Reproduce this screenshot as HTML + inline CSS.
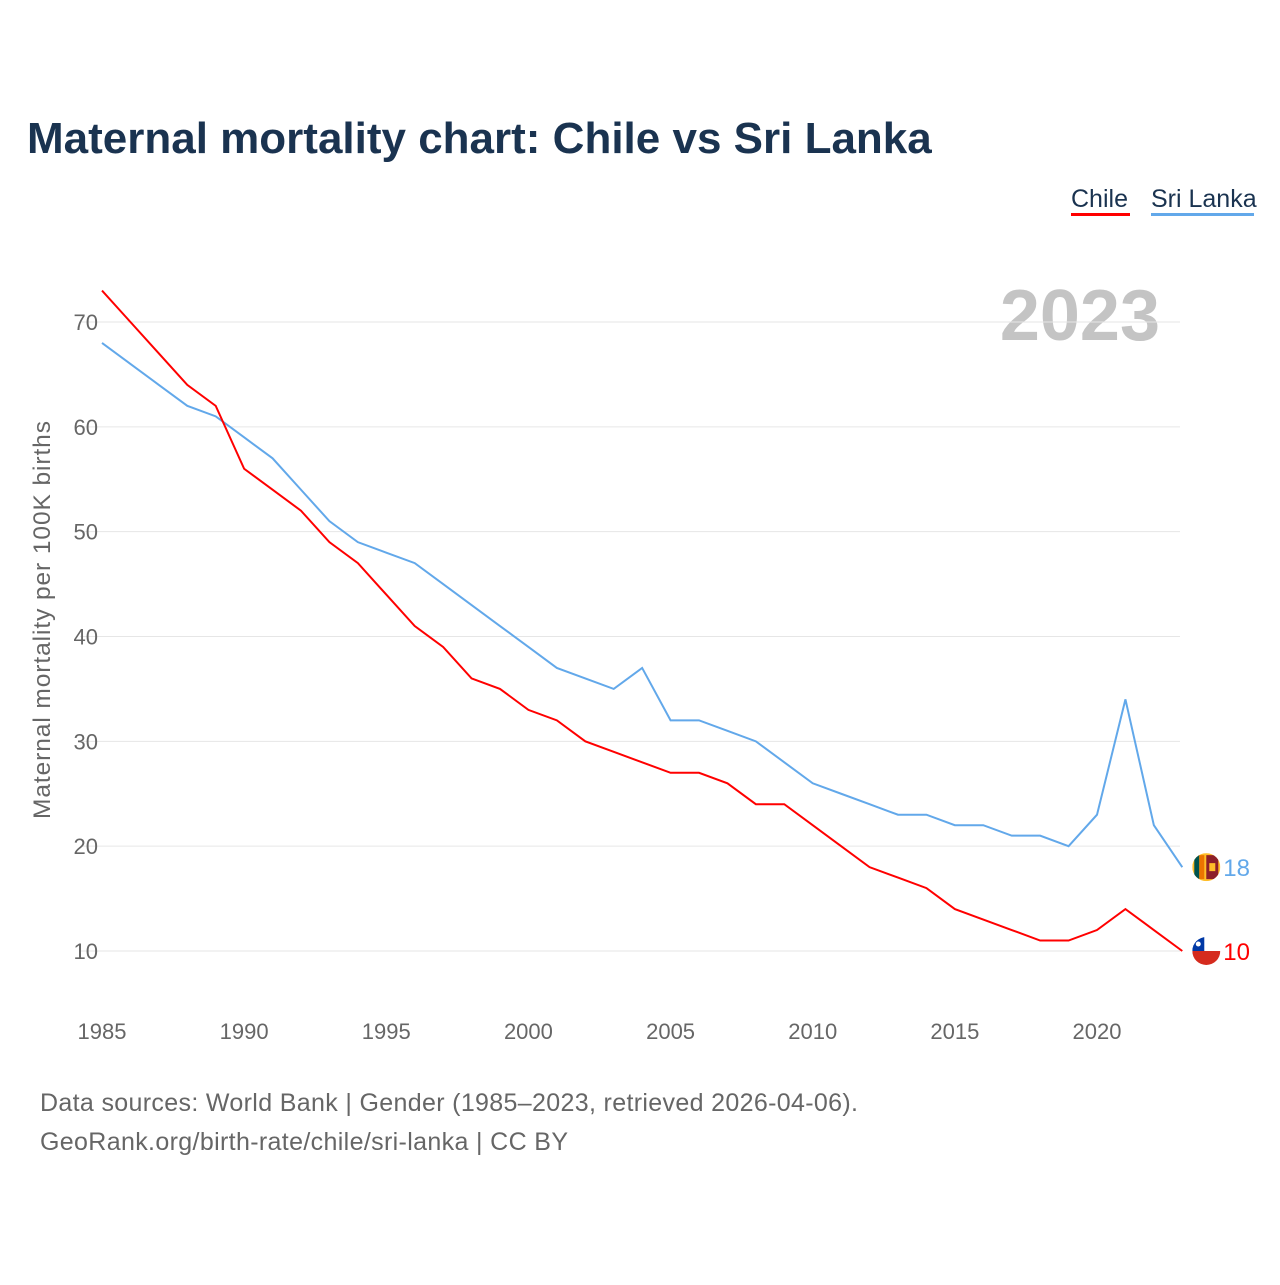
<!DOCTYPE html>
<html><head><meta charset="utf-8"><style>
body{margin:0;background:#fff;font-family:"Liberation Sans",sans-serif}
</style></head><body>
<svg width="1280" height="1280" viewBox="0 0 1280 1280">
<defs>
<clipPath id="c1"><circle cx="0" cy="0" r="14"/></clipPath>
</defs>
<text x="27" y="153" font-size="44" font-weight="bold" fill="#1a3350">Maternal mortality chart: Chile vs Sri Lanka</text>
<g>
<text x="1071" y="207" font-size="25" fill="#1a3350">Chile</text>
<rect x="1071" y="213" width="59" height="3" fill="#ff0000"/>
<text x="1151" y="207" font-size="25" fill="#1a3350">Sri Lanka</text>
<rect x="1151" y="213" width="103" height="3" fill="#62a8ea"/>
</g>
<text x="1160" y="340" font-size="72" font-weight="bold" fill="#c4c4c4" text-anchor="end">2023</text>
<text transform="translate(50,620) rotate(-90)" font-size="24.5" fill="#666" text-anchor="middle" textLength="398">Maternal mortality per 100K births</text>
<g id="grid"></g><g id="lines"></g>
<text x="40" y="1111" font-size="25" fill="#666" textLength="818">Data sources: World Bank | Gender (1985–2023, retrieved 2026-04-06).</text>
<text x="40" y="1150" font-size="25" fill="#666" textLength="528">GeoRank.org/birth-rate/chile/sri-lanka | CC BY</text>
</svg>
<script>
const years=[];for(let y=1985;y<=2023;y++)years.push(y);
const chile=[73,70,67,64,62,56,54,52,49,47,44,41,39,36,35,33,32,30,29,28,27,27,26,24,24,22,20,18,17,16,14,13,12,11,11,12,14,12,10];
const sriLanka=[68,66,64,62,61,59,57,54,51,49,48,47,45,43,41,39,37,36,35,37,32,32,31,30,28,26,25,24,23,23,22,22,21,21,20,23,34,22,18];
const yTicks=[10,20,30,40,50,60,70];
const xTicks=[1985,1990,1995,2000,2005,2010,2015,2020];
const NS="http://www.w3.org/2000/svg";
const X=v=>102+(v-1985)*995/35, Y=v=>951-(v-10)*629/60;
function mk(t,a,p){const e=document.createElementNS(NS,t);for(const k in a)e.setAttribute(k,a[k]);p.appendChild(e);return e;}
const g=document.getElementById('grid'),L=document.getElementById('lines');
yTicks.forEach(t=>{const l=mk('line',{x1:80,x2:1180,y1:Y(t),y2:Y(t),stroke:'#e6e6e6'},g);


const tx=mk('text',{x:98,y:Y(t)+8,'font-size':22,fill:'#666','text-anchor':'end'},g);tx.textContent=t;

});
xTicks.forEach(t=>{const tx=mk('text',{x:X(t),y:1039,'font-size':22,fill:'#666','text-anchor':'middle'},g);tx.textContent=t;

});
function flag(name,cx,cy){const fg=mk('g',{transform:'translate('+cx+','+cy+')','clip-path':'url(#c1)'},L);


if(name==='chile'){mk('rect',{x:-14,y:-14,width:28,height:14,fill:'#fff'},fg);mk('rect',{x:-14,y:0,width:28,height:14,fill:'#d52b1e'},fg);mk('rect',{x:-14,y:-14,width:12,height:14,fill:'#0039a6'},fg);mk('circle',{cx:-8,cy:-7,r:2.5,fill:'#fff'},fg);}
else{mk('rect',{x:-14,y:-14,width:28,height:28,fill:'#ffbe29'},fg);mk('rect',{x:-12,y:-12,width:5,height:24,fill:'#00534e'},fg);mk('rect',{x:-7,y:-12,width:5,height:24,fill:'#eb7400'},fg);mk('rect',{x:0,y:-12,width:12,height:24,fill:'#8d2029'},fg);mk('rect',{x:3,y:-4,width:6,height:8,fill:'#ffbe29'},fg);}}
function series(d,c,name){const p=mk('polyline',{points:d.map((v,i)=>X(years[i])+','+Y(v)).join(' '),fill:'none',stroke:c,'stroke-width':2},L);


const last=d[d.length-1],cx=X(2023)+24,cy=Y(last);
flag(name,cx,cy);
const t=mk('text',{x:cx+17,y:cy+9,'font-size':24,fill:c},L);t.textContent=last;

}
series(sriLanka,'#62a8ea','sri-lanka');
series(chile,'#ff0000','chile');
</script>
</body></html>
